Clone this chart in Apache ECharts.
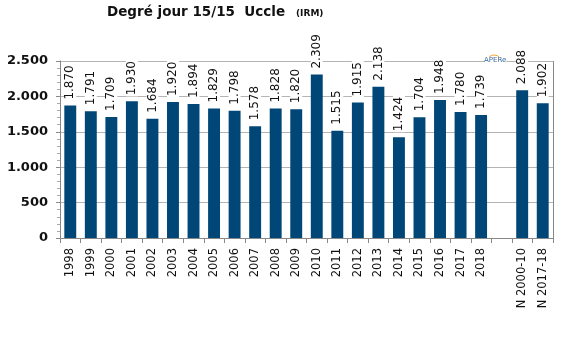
<!DOCTYPE html>
<html><head><meta charset="utf-8">
<script src="https://cdn.jsdelivr.net/npm/echarts@6/dist/echarts.min.js"></script>
<style>html,body{margin:0;padding:0;background:#fff}#c{width:580px;height:357px}</style>
</head><body><div id="c"></div>
<script>
const categories = ['1998','1999','2000','2001','2002','2003','2004','2005','2006','2007','2008','2009','2010','2011','2012','2013','2014','2015','2016','2017','2018','','N 2000-10','N 2017-18'];
const values = [1870,1791,1709,1930,1684,1920,1894,1829,1798,1578,1828,1820,2309,1515,1915,2138,1424,1704,1948,1780,1739,null,2088,1902];
const yTicks = [0,500,1000,1500,2000,2500];

function fmt(v){ return String(v).replace(/\B(?=(\d{3})+(?!\d))/g,'.'); }

const chart = echarts.init(document.getElementById('c'), null, {renderer:'canvas'});
chart.setOption({
  animation:false,
  backgroundColor:'#fff',
  grid:{left:60,right:27,top:61,bottom:119,containLabel:false},
  xAxis:{
    type:'category',
    data:categories,
    axisLine:{lineStyle:{color:'#888',width:1}},
    axisTick:{show:true,alignWithLabel:false,length:5,lineStyle:{color:'#888'}},
    axisLabel:{rotate:90,interval:0,fontFamily:'DejaVu Sans',fontSize:11.5,color:'#111',margin:10,
      formatter:v=>v},
    splitLine:{show:false}
  },
  yAxis:{
    type:'value',min:yTicks[0],max:yTicks[yTicks.length-1],interval:500,
    axisLine:{show:true,lineStyle:{color:'#888'}},
    axisTick:{show:true,length:4,lineStyle:{color:'#888'}},
    minorTick:{show:true,splitNumber:5,length:3,lineStyle:{color:'#aaa'}},
    axisLabel:{fontFamily:'DejaVu Sans',fontWeight:'bold',fontSize:13,color:'#111',margin:12,
      formatter:v=>fmt(v)},
    splitLine:{show:true,lineStyle:{color:'#b4b4b4',width:1}}
  },
  graphic:[
    {type:'text',left:107,top:5,style:{text:'Degré jour 15/15  Uccle',fontFamily:'DejaVu Sans',fontWeight:'bold',fontSize:13.5,fill:'#111'}},
    {type:'text',left:296,top:9,style:{text:'(IRM)',fontFamily:'DejaVu Sans',fontWeight:'bold',fontSize:9,fill:'#111'}},
    {type:'line',shape:{x1:553.5,y1:61,x2:553.5,y2:238},style:{stroke:'#888',lineWidth:1},z:10},
    {type:'arc',shape:{cx:494,cy:62,r:7,startAngle:Math.PI*1.05,endAngle:Math.PI*1.95},style:{stroke:'#f0a030',lineWidth:1,fill:null},z:10},
    {type:'text',left:484,top:57,style:{text:'APERe',fontSize:7,fontFamily:'DejaVu Sans',fill:'#3a6aa0',backgroundColor:'#fff'},z:10}
  ],
  series:[{
    type:'bar',
    data:values,
    barWidth:'58%',
    itemStyle:{color:'#004677'},
    label:{show:true,position:'top',rotate:90,align:'left',verticalAlign:'middle',distance:5,
      fontFamily:'DejaVu Sans',fontSize:12,color:'#111',backgroundColor:'#fff',padding:[0,1],
      formatter:p=>p.value==null?'':fmt(p.value)}
  }]
});
</script></body></html>
